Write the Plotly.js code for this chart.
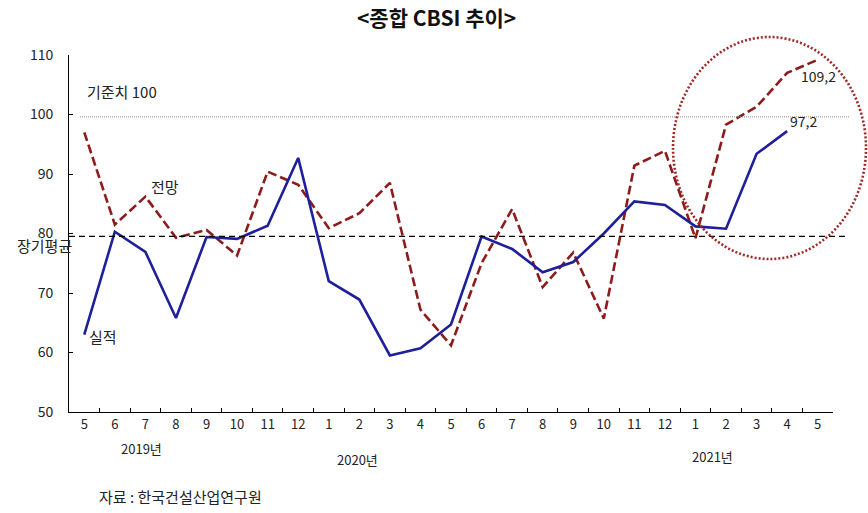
<!DOCTYPE html>
<html>
<head>
<meta charset="utf-8">
<script src="https://cdn.plot.ly/plotly-3.0.1.min.js"></script>
<style>html,body{margin:0;padding:0;background:#fff;}#chart{width:868px;height:513px;}</style>
</head>
<body>
<div id="chart"></div>
<script>
// ---- data ----
var years  = [2019,2019,2019,2019,2019,2019,2019,2019,
              2020,2020,2020,2020,2020,2020,2020,2020,2020,2020,2020,2020,
              2021,2021,2021,2021,2021];
var months = [5,6,7,8,9,10,11,12, 1,2,3,4,5,6,7,8,9,10,11,12, 1,2,3,4,5];
var actual   = [63.0, 80.3, 76.9, 65.8, 79.4, 79.1, 81.3, 92.7,
                72.0, 68.9, 59.5, 60.7, 64.7, 79.5, 77.4, 73.5, 75.2, 80.0, 85.4, 84.8,
                81.2, 80.8, 93.4, 97.2, null];
var forecast = [97.0, 81.5, 86.2, 79.3, 80.6, 76.3, 90.4, 88.2,
                80.9, 83.4, 88.5, 67.2, 61.2, 75.0, 84.1, 71.0, 76.8, 65.7, 91.4, 93.9,
                79.2, 98.3, 101.3, 107.0, 109.2];
var baseline = 100;      // 기준치
var longAvg = 79.5;      // 장기평균
var yearLabels = ["2019년", "2020년", "2021년"];

var cats = years.map(function(y, i){ return y + "." + months[i]; });
var tickText = months.map(String);

var FONT = "'Noto Sans CJK KR', 'Noto Sans', sans-serif";

var traces = [
  {x: cats, y: forecast, type: 'scatter', mode: 'lines', name: '전망',
   line: {color: '#8E1B1B', width: 2.6, dash: '9px,4px'}, hoverinfo: 'skip'},
  {x: cats, y: actual, type: 'scatter', mode: 'lines', name: '실적',
   line: {color: '#1F1F99', width: 2.6}, hoverinfo: 'skip'}
];

var lastA = 23, lastF = 24;

var layout = {
  width: 868, height: 513,
  margin: {l: 69, r: 35, t: 55, b: 101},
  paper_bgcolor: '#fff', plot_bgcolor: '#fff',
  showlegend: false,
  font: {family: FONT, size: 13, color: '#222'},
  title: {text: '<b>&lt;종합 CBSI 추이&gt;</b>', xref: 'container', x: 0.503, y: 0.963,
          yanchor: 'middle', xanchor: 'center',
          font: {family: FONT, size: 21, color: '#111'}},
  xaxis: {type: 'category', categoryorder: 'array', categoryarray: cats,
          tickmode: 'array', tickvals: cats, ticktext: tickText,
          tickson: 'boundaries', ticks: 'inside', ticklen: 4, tickcolor: '#000',
          showline: true, linecolor: '#000', linewidth: 1, showgrid: false, zeroline: false,
          range: [-0.5, 24.5], tickfont: {size: 13, color: '#222'}},
  yaxis: {range: [50, 110], dtick: 10, tick0: 50, ticks: 'inside', ticklen: 4, tickcolor: '#000',
          showline: true, linecolor: '#000', linewidth: 1, showgrid: false, zeroline: false,
          ticklabelstandoff: 12, tickfont: {size: 14, color: '#222'}},
  shapes: [
    {type: 'line', xref: 'paper', yref: 'y', x0: 0.0144, x1: 1.022, y0: baseline - 0.4, y1: baseline - 0.4,
     line: {color: '#888', width: 1, dash: '1px,1px'}},
    {type: 'line', xref: 'paper', yref: 'y', x0: 0, x1: 1.018, y0: longAvg, y1: longAvg,
     line: {color: '#000', width: 1.3, dash: '6px,4px'}},
    {type: 'circle', xref: 'paper', yref: 'paper', x0: 0.7906, x1: 1.0432, y0: 0.4286, y1: 1.0504,
     line: {color: '#A02828', width: 2.6, dash: '2px,2px'}}
  ],
  annotations: [
    {xref: 'x', yref: 'y', x: 0.03, y: 103.8, text: '기준치 100', showarrow: false,
     xanchor: 'left', yanchor: 'middle', font: {size: 15, color: '#222'}},
    {xref: 'x', yref: 'y', x: 2.65, y: 87.85, text: '전망', showarrow: false,
     xanchor: 'center', yanchor: 'middle', font: {size: 15, color: '#222'}},
    {xref: 'x', yref: 'y', x: 0.62, y: 62.7, text: '실적', showarrow: false,
     xanchor: 'center', yanchor: 'middle', font: {size: 15, color: '#222'}},
    {xref: 'paper', yref: 'y', x: 0.006, y: 78.0, text: '장기평균', showarrow: false,
     xanchor: 'right', yanchor: 'middle', font: {size: 15, color: '#222'}},
    {xref: 'x', yref: 'y', x: lastA, y: actual[lastA], text: String(actual[lastA]).replace('.', ','),
     showarrow: false, xanchor: 'center', yanchor: 'middle', xshift: 16, yshift: 10,
     font: {size: 14, color: '#222'}},
    {xref: 'x', yref: 'y', x: lastF, y: forecast[lastF], text: String(forecast[lastF]).replace('.', ','),
     showarrow: false, xanchor: 'center', yanchor: 'middle', xshift: 1, yshift: -16,
     font: {size: 14, color: '#222'}},
    {xref: 'x', yref: 'paper', x: 1.87, y: -0.101, text: yearLabels[0], showarrow: false,
     xanchor: 'center', yanchor: 'middle', font: {size: 13, color: '#222'}},
    {xref: 'x', yref: 'paper', x: 8.93, y: -0.132, text: yearLabels[1], showarrow: false,
     xanchor: 'center', yanchor: 'middle', font: {size: 13, color: '#222'}},
    {xref: 'x', yref: 'paper', x: 20.56, y: -0.126, text: yearLabels[2], showarrow: false,
     xanchor: 'center', yanchor: 'middle', font: {size: 13, color: '#222'}},
    {xref: 'paper', yref: 'paper', x: 0.0366, y: -0.238, text: '자료 : 한국건설산업연구원', showarrow: false,
     xanchor: 'left', yanchor: 'middle', font: {size: 15, color: '#222'}}
  ]
};

Plotly.newPlot('chart', traces, layout, {staticPlot: true, displayModeBar: false});
</script>
</body>
</html>
